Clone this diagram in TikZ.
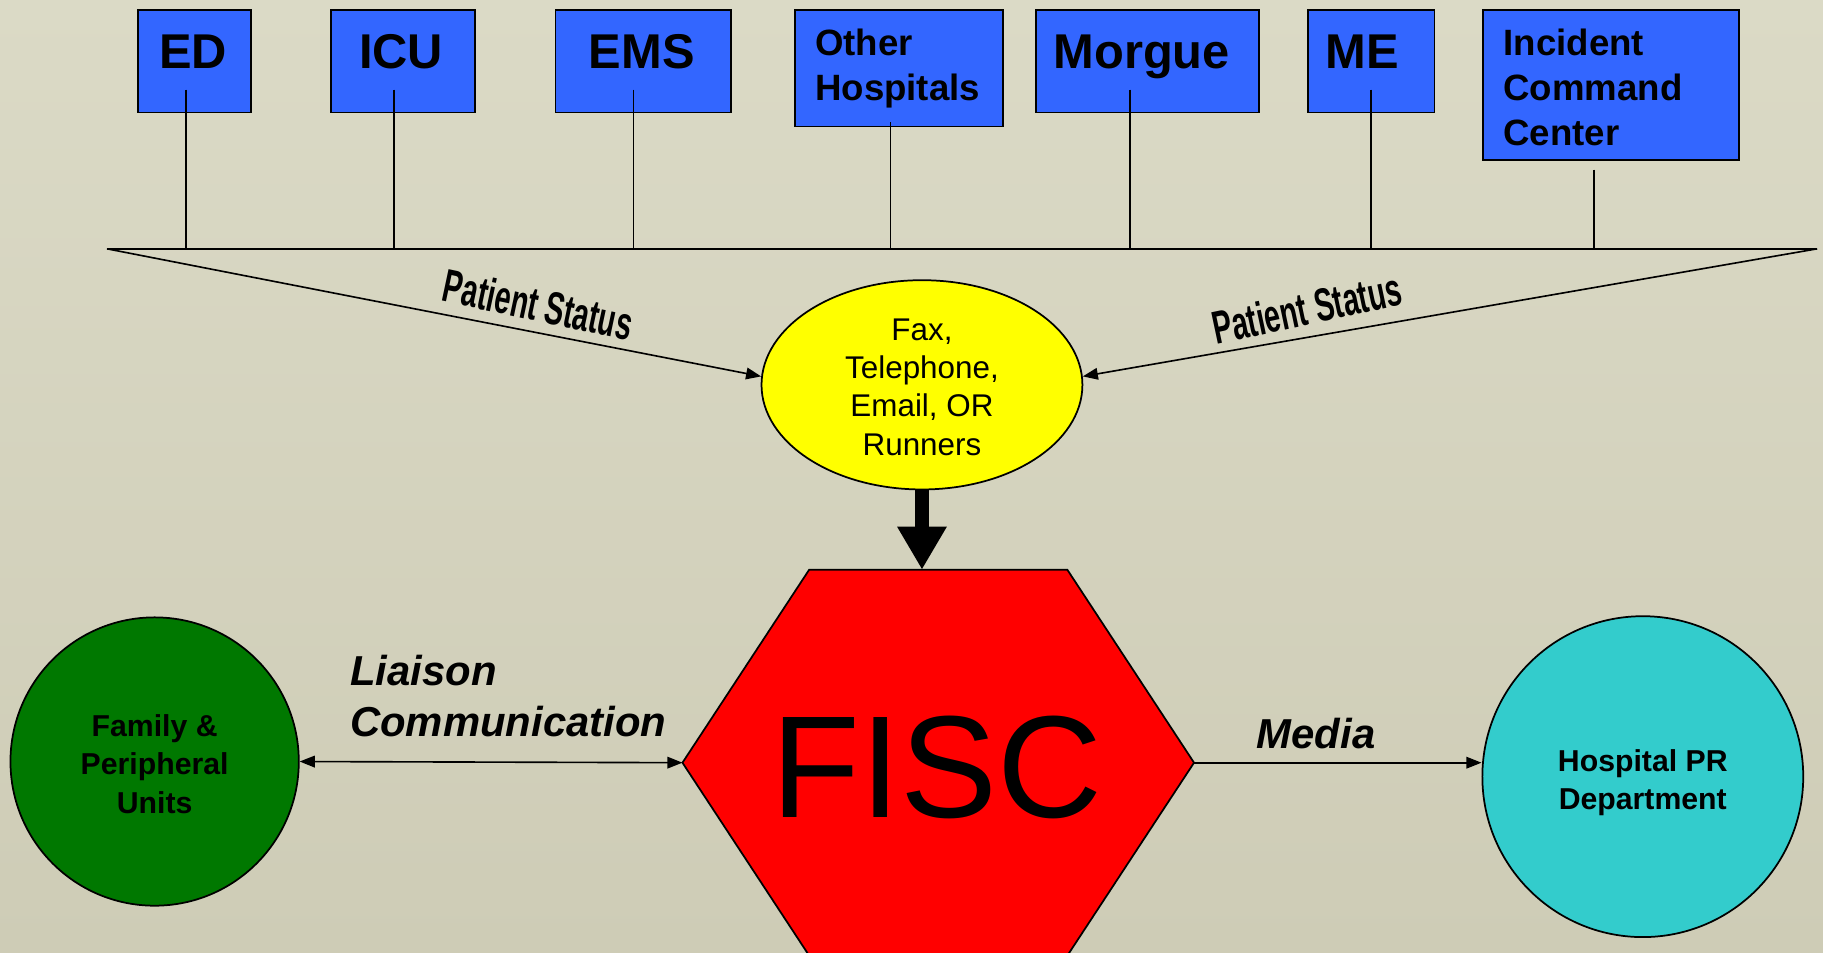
\documentclass[tikz,border=0pt]{standalone}
\usepackage{fontspec}
\setmainfont{Liberation Sans}
\newfontfamily\narrowsans[FakeStretch=0.62]{Liberation Sans}
\usetikzlibrary{arrows.meta,shapes.geometric}
\definecolor{bgtop}{HTML}{DBDAC6}
\definecolor{bgbot}{HTML}{CECCB6}
\definecolor{boxblue}{HTML}{3366FF}
\definecolor{fiscred}{HTML}{FF0000}
\definecolor{famgreen}{HTML}{007800}
\definecolor{prcyan}{HTML}{33CCCC}
\definecolor{faxyellow}{HTML}{FFFF00}
\begin{document}
\begin{tikzpicture}[x=1pt,y=-1pt,
  unitbox/.style={draw=black, line width=1.6pt, fill=boxblue, inner sep=0pt, anchor=north west},
  bigtext/.style={font=\fontsize{42}{50}\selectfont\bfseries, anchor=base, inner sep=0pt},
  smalltext/.style={font=\fontsize{31.5}{38.5}\selectfont\bfseries, anchor=north west, align=left, inner sep=0pt},
  feed/.style={line width=1.4pt},
  tipend/.style={-{Triangle[length=13pt,width=10pt]}},
  tipboth/.style={{Triangle[length=13pt,width=10pt]}-{Triangle[length=13pt,width=10pt]}},
  pslabel/.style={font=\narrowsans\fontsize{40}{42}\selectfont\bfseries, inner sep=0pt},
  flowlabel/.style={font=\fontsize{36}{44}\selectfont\bfseries\itshape, inner sep=0pt},
  roundtext/.style={font=\fontsize{26}{33}\selectfont\bfseries, align=center, inner sep=0pt},
]
\useasboundingbox (0,0) rectangle (1568,819);
\clip (0,0) rectangle (1568,819);
\shade[top color=bgtop, bottom color=bgbot] (0,0) rectangle (1568,819);

% top boxes
\node[unitbox, minimum width=97pt, minimum height=88pt] (ed) at (118,8) {};
\node[bigtext] (ed-t) at (166,59) {ED};
\node[unitbox, minimum width=124pt, minimum height=88pt] (icu) at (284,8) {};
\node[bigtext] (icu-t) at (345,59) {ICU};
\node[unitbox, minimum width=151pt, minimum height=88pt] (ems) at (477,8) {};
\node[bigtext] (ems-t) at (552,59) {EMS};
\node[unitbox, minimum width=179pt, minimum height=100pt] (oth) at (683,8) {};
\node[smalltext] (oth-t) at (701,25) {Other\\Hospitals};
\node[unitbox, minimum width=192pt, minimum height=88pt] (mor) at (890,8) {};
\node[bigtext] (mor-t) at (982,59) {Morgue};
\node[unitbox, minimum width=109pt, minimum height=88pt] (me) at (1124,8) {};
\node[bigtext] (me-t) at (1172,59) {ME};
\node[unitbox, minimum width=220pt, minimum height=129pt] (icc) at (1275,8) {};
\node[smalltext] (icc-t) at (1293,25) {Incident\\Command\\Center};

% collector line
\coordinate (L) at (92,214);
\coordinate (R) at (1563,214);
\draw[line width=1.8pt] (L) -- (R);
\coordinate (ed-a) at (160,77);
\coordinate (icu-a) at (339,77);
\coordinate (ems-a) at (545,77);
\coordinate (oth-a) at (766,105);
\coordinate (mor-a) at (972,77);
\coordinate (me-a) at (1179,77);
\coordinate (icc-a) at (1371,146);
\foreach \c in {ed-a,icu-a,ems-a,oth-a,mor-a,me-a,icc-a}
  \draw[feed] (\c) -- (\c |- L);

% fax ellipse
\node[ellipse, draw=black, line width=1.5pt, fill=faxyellow, minimum width=276pt, minimum height=180pt, inner sep=0pt] (fax) at (793,331) {};
\node[font=\fontsize{27}{33}\selectfont, align=center, inner sep=0pt] (fax-t) at (793,333) {Fax,\\Telephone,\\Email, OR\\Runners};
\draw[feed, tipend] (L) -- (fax.177);
\draw[feed, tipend] (R) -- (fax.3);
\node[pslabel, rotate=-12] (ps1) at (463,262) {Patient Status};
\node[pslabel, rotate=12] (ps2) at (1124,265) {Patient Status};

% FISC hexagon
\coordinate (hxTL) at (696,490);
\coordinate (hxTR) at (918,490);
\coordinate (hxR) at (1027,656);
\coordinate (hxBR) at (918,822);
\coordinate (hxBL) at (696,822);
\coordinate (hxL) at (587,656);
\filldraw[fill=fiscred, draw=black, line width=1.5pt] (hxTL) -- (hxTR) -- (hxR) -- (hxBR) -- (hxBL) -- (hxL) -- cycle;
\node[font=\fontsize{125}{130}\selectfont, anchor=base, inner sep=0pt] (fisc) at (806,703) {FISC};
\draw[line width=12pt, -{Triangle[length=37pt,width=40pt]}] (fax.south) -- (fax.south |- hxTL);

% side circles
\node[circle, draw=black, line width=1.5pt, fill=famgreen, minimum size=248pt, inner sep=0pt] (fam) at (133,655) {};
\node[roundtext] (fam-t) at (133,657) {Family \&\\Peripheral\\Units};
\node[circle, draw=black, line width=1.5pt, fill=prcyan, minimum size=276pt, inner sep=0pt] (pr) at (1413,668) {};
\node[roundtext] (pr-t) at (1413,673) {Hospital PR\\Department};

\draw[feed, tipboth] (fam.east) -- (hxL);
\draw[feed, tipend] (hxR) -- (hxR -| pr.west);
\node[flowlabel, anchor=west, align=left] (liaison) at (301,599) {Liaison\\Communication};
\node[flowlabel, anchor=base] (media) at (1132,644) {Media};
\end{tikzpicture}
\end{document}
